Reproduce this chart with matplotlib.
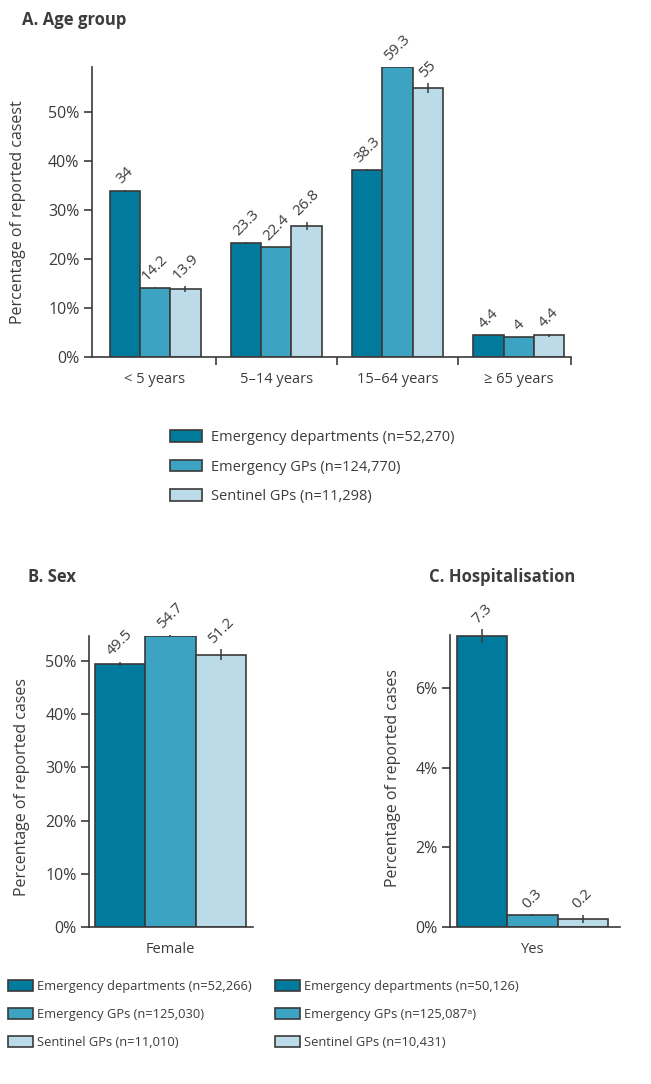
import numpy as np
import matplotlib
matplotlib.use("Agg")
import matplotlib.pyplot as plt
from matplotlib.patches import Patch

plt.rcParams['font.family'] = ['Open Sans', 'DejaVu Sans']
plt.rcParams['text.color'] = '#3c3c3c'
plt.rcParams['axes.labelcolor'] = '#3c3c3c'
plt.rcParams['xtick.color'] = '#3c3c3c'
plt.rcParams['ytick.color'] = '#3c3c3c'

# data
colors = ['#007b9e', '#3ca4c2', '#badbe7']
edge = '#3a3a3a'

age_groups = ['< 5 years', '5–14 years', '15–64 years', '≥ 65 years']
age_ed = [34, 23.3, 38.3, 4.4]
age_egp = [14.2, 22.4, 59.3, 4]
age_sgp = [13.9, 26.8, 55, 4.4]
age_ed_err = [0.2, 0.2, 0.2, 0.1]
age_egp_err = [0.1, 0.1, 0.1, 0.1]
age_sgp_err = [0.7, 0.9, 1.0, 0.4]
age_legend = ['Emergency departments (n=52,270)', 'Emergency GPs (n=124,770)',
              'Sentinel GPs (n=11,298)']

sex_cat = ['Female']
sex_vals = [49.5, 54.7, 51.2]
sex_err = [0.4, 0.2, 1.0]
sex_legend = ['Emergency departments (n=52,266)', 'Emergency GPs (n=125,030)',
              'Sentinel GPs (n=11,010)']

hosp_cat = ['Yes']
hosp_vals = [7.3, 0.3, 0.2]
hosp_err = [0.17, 0.02, 0.1]
hosp_legend = ['Emergency departments (n=50,126)',
               'Emergency GPs (n=125,087\u1d43)',
               'Sentinel GPs (n=10,431)']

W, H = 651, 1084
fig = plt.figure(figsize=(W / 100, H / 100), dpi=100)


def px_axes(left, right, top, bottom):
    return fig.add_axes([left / W, 1 - bottom / H, (right - left) / W, (bottom - top) / H])


def style(ax):
    for s in ['top', 'right']:
        ax.spines[s].set_visible(False)
    for s in ['left', 'bottom']:
        ax.spines[s].set_color('#3a3a3a')
        ax.spines[s].set_linewidth(1.2)
    ax.tick_params(axis='y', length=6, width=1.2, labelsize=11.5, pad=3)
    ax.yaxis.set_major_formatter(plt.FuncFormatter(lambda v, p: '%d%%' % v))


def draw_bars(ax, x, vals, errs, w=0.25):
    offsets = [-w, 0, w]
    for i in range(3):
        xs = np.asarray(x) + offsets[i]
        ax.bar(xs, vals[i], w, color=colors[i], edgecolor=edge, linewidth=1.2, zorder=2)
        ax.errorbar(xs, vals[i], yerr=errs[i], fmt='none', ecolor='#3a3a3a',
                    elinewidth=1.1, capsize=0, zorder=3, clip_on=False)
        for xx, v, e in zip(xs, vals[i], errs[i]):
            ax.annotate('%g' % v, (xx, v + e), xytext=(0, 2), textcoords='offset points',
                        rotation=45, ha='center', va='bottom', fontsize=11,
                        color='#3c3c3c', annotation_clip=False)


# A. Age group
axA = px_axes(92, 571, 67, 357)
style(axA)
x = np.arange(len(age_groups))
draw_bars(axA, x, [age_ed, age_egp, age_sgp], [age_ed_err, age_egp_err, age_sgp_err])
axA.set_ylim(0, 59.3)
axA.set_yticks([0, 10, 20, 30, 40, 50])
axA.set_xlim(-0.52, 3.43)
axA.set_xticks(x)
axA.set_xticklabels(age_groups, fontsize=10.5)
axA.tick_params(axis='x', length=0, pad=11)
axA.set_xticks([0.5, 1.5, 2.5, 3.43], minor=True)
axA.tick_params(axis='x', which='minor', length=6, width=1.2)
axA.set_ylabel('Percentage of reported casest', fontsize=11.5)
axA.yaxis.set_label_coords(-0.138, 0.5)
fig.text(22 / W, 1 - 20 / H, 'A. Age group', fontsize=12, fontweight='bold',
         va='center', ha='left', color='#3c3c3c')

handles = [Patch(facecolor=c, edgecolor=edge, linewidth=1.2) for c in colors]
fig.legend(handles, age_legend, loc='upper left', bbox_to_anchor=(170 / W, 1 - 430 / H),
           frameon=False, fontsize=10.5, handlelength=2.2, handleheight=0.85,
           handletextpad=0.6, labelspacing=1.0, borderpad=0, borderaxespad=0)

# B. Sex
axB = px_axes(89, 253, 636, 927)
style(axB)
draw_bars(axB, [0], [[v] for v in sex_vals], [[e] for e in sex_err])
axB.set_ylim(0, 54.7)
axB.set_yticks([0, 10, 20, 30, 40, 50])
axB.set_xlim(-0.405, 0.41)
axB.set_xticks([0])
axB.set_xticklabels(sex_cat, fontsize=10.5)
axB.tick_params(axis='x', length=0, pad=11)
axB.set_ylabel('Percentage of reported cases', fontsize=11.5)
axB.yaxis.set_label_coords(-0.36, 0.48)
fig.text(28 / W, 1 - 577 / H, 'B. Sex', fontsize=12, fontweight='bold',
         va='center', ha='left', color='#3c3c3c')

# C. Hospitalisation
axC = px_axes(450, 620, 635, 927)
style(axC)
draw_bars(axC, [0], [[v] for v in hosp_vals], [[e] for e in hosp_err])
axC.set_ylim(0, 7.33)
axC.set_yticks([0, 2, 4, 6])
axC.set_xlim(-0.41, 0.435)
axC.set_xticks([0])
axC.set_xticklabels(hosp_cat, fontsize=10.5)
axC.tick_params(axis='x', length=0, pad=11)
axC.set_ylabel('Percentage of reported cases', fontsize=11.5)
axC.yaxis.set_label_coords(-0.29, 0.51)
fig.text(429 / W, 1 - 577 / H, 'C. Hospitalisation', fontsize=12, fontweight='bold',
         va='center', ha='left', color='#3c3c3c')

fig.legend(handles, sex_legend, loc='upper left', bbox_to_anchor=(8 / W, 1 - 980 / H),
           frameon=False, fontsize=9.3, handlelength=1.9, handleheight=0.9,
           handletextpad=0.35, labelspacing=1.15, borderpad=0, borderaxespad=0)
fig.legend(handles, hosp_legend, loc='upper left', bbox_to_anchor=(275 / W, 1 - 980 / H),
           frameon=False, fontsize=9.3, handlelength=1.9, handleheight=0.9,
           handletextpad=0.35, labelspacing=1.15, borderpad=0, borderaxespad=0)

fig.savefig('out.png', dpi=100)
